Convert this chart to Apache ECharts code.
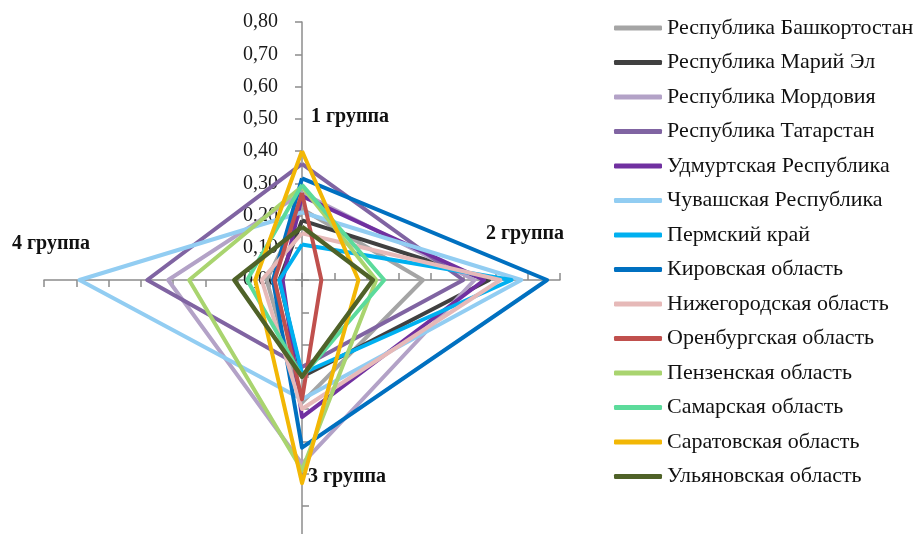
<!DOCTYPE html>
<html>
<head>
<meta charset="utf-8">
<script src="https://cdn.jsdelivr.net/npm/echarts@6/dist/echarts.min.js"></script>
<style>
  html, body { margin: 0; padding: 0; background: #fff; }
  #chart { width: 921px; height: 534px; }
</style>
</head>
<body>
<div id="chart"></div>
<script>
  // группы (оси)
  const groups = ['1 группа', '2 группа', '3 группа', '4 группа']
  const regions = [
    'Республика Башкортостан', 'Республика Марий Эл', 'Республика Мордовия',
    'Республика Татарстан', 'Удмуртская Республика', 'Чувашская Республика',
    'Пермский край', 'Кировская область', 'Нижегородская область',
    'Оренбургская область', 'Пензенская область', 'Самарская область',
    'Саратовская область', 'Ульяновская область'
  ]
  // значения по группам, в порядке regions
  const group1 = [0.22, 0.185, 0.27, 0.36, 0.26, 0.21, 0.11, 0.315, 0.145, 0.27, 0.29, 0.295, 0.40, 0.165]
  const group2 = [0.375, 0.58, 0.535, 0.50, 0.565, 0.68, 0.65, 0.76, 0.615, 0.06, 0.23, 0.255, 0.175, 0.22]
  const group3 = [0.38, 0.30, 0.57, 0.27, 0.425, 0.37, 0.29, 0.52, 0.40, 0.37, 0.59, 0.30, 0.63, 0.30]
  const group4 = [0.11, 0.07, 0.415, 0.48, 0.06, 0.69, 0.07, 0.09, 0.125, 0.085, 0.35, 0.17, 0.145, 0.21]
  const axisMax = 0.8

  const colors = [
    '#a5a5a5', '#404040', '#b3a2c7', '#8064a2', '#7030a0', '#92cdf2', '#00b0f0',
    '#0070c0', '#e6b9b8', '#c0504d', '#a9d46f', '#5cdb9b', '#f2b705', '#4f6228'
  ]

  // radar goes counterclockwise from the top: 1, 4, 3, 2
  const order = [0, 3, 2, 1]
  const byGroup = [group1, group2, group3, group4]

  const serif = '"Liberation Serif", "DejaVu Serif", serif'
  const axisColor = '#8c8c8c'

  const indicators = order.map((g, i) => {
    let ind = { name: groups[g], min: 0, max: axisMax }
    if (i === 0) {
      ind.axisLabel = {
        show: true,
        formatter: (v) => v.toFixed(2).replace('.', ','),
        fontFamily: serif,
        fontSize: 20,
        color: '#1a1a1a',
        margin: 24
      }
    }
    return ind
  })

  const series = regions.map((name, r) => ({
    type: 'radar',
    name: name,
    radarIndex: 0,
    symbol: 'none',
    color: colors[r],
    lineStyle: { width: r === 13 ? 4.5 : 4, color: colors[r] },
    data: [{ name: name, value: order.map((g) => byGroup[g][r]) }]
  }))

  const baseRadar = {
    center: [302, 280],
    radius: 258,
    splitNumber: 8,
    shape: 'polygon',
    indicator: indicators,
    axisName: { show: false },
    splitLine: { show: false },
    splitArea: { show: false }
  }

  let myChart = echarts.init(document.getElementById('chart'))
  let option = {
    animation: false,
    radar: [
      Object.assign({}, baseRadar, {
        axisLine: { show: true, lineStyle: { color: axisColor, width: 1.5 } },
        axisTick: { show: true, length: 7, lineStyle: { color: axisColor, width: 1.5 } },
        axisLabel: { show: false }
      }),
      Object.assign({}, baseRadar, {
        indicator: order.map((g) => ({ name: groups[g], min: 0, max: axisMax })),
        axisLine: { show: false },
        axisTick: { show: true, inside: true, length: 7, lineStyle: { color: axisColor, width: 1.5 } },
        axisLabel: { show: false }
      })
    ],
    legend: {
      orient: 'vertical',
      left: 609,
      top: 12,
      icon: 'roundRect',
      itemWidth: 48,
      itemHeight: 5,
      itemGap: 12.5,
      data: regions,
      textStyle: {
        fontFamily: serif,
        fontSize: 22,
        lineHeight: 22,
        color: '#111'
      }
    },
    graphic: [
      { type: 'text', left: 311, top: 107, style: { text: groups[0], font: 'bold 20px ' + serif, fill: '#111' } },
      { type: 'text', left: 486, top: 224, style: { text: groups[1], font: 'bold 20px ' + serif, fill: '#111' } },
      { type: 'text', left: 308, top: 467, style: { text: groups[2], font: 'bold 20px ' + serif, fill: '#111' } },
      { type: 'text', left: 12, top: 234, style: { text: groups[3], font: 'bold 20px ' + serif, fill: '#111' } }
    ],
    series: series
  }
  myChart.setOption(option)
</script>
</body>
</html>
